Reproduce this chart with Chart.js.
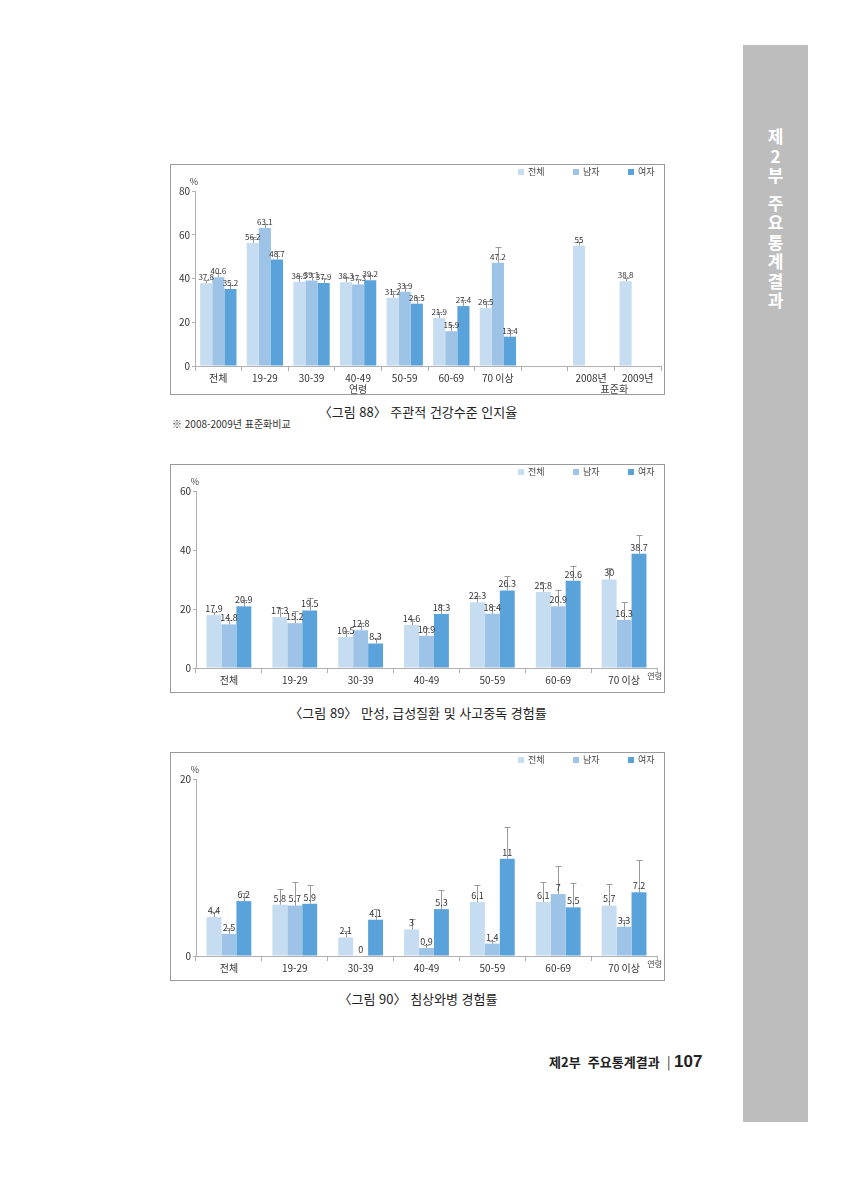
<!DOCTYPE html>
<html lang="ko">
<head>
<meta charset="utf-8">
<script src="https://cdn.jsdelivr.net/npm/chart.js@4.4.1/dist/chart.umd.min.js"></script>
<style>
  body { margin: 0; background: #fff; font-family: 'Noto Sans CJK KR', sans-serif; color: #222; }
  .page { position: relative; width: 847px; height: 1200px; overflow: hidden; }
  .box { position: absolute; border: 1.5px solid #9a9a9a; background: #fff; }
  .box canvas { position: absolute; left: 0; top: 0; }
  .cap { position: absolute; left: 170px; width: 496px; text-align: center; font-size: 13px; color: #222; }
  .note { position: absolute; left: 172px; font-size: 10px; color: #333; }
  .side { position: absolute; left: 743px; top: 45px; width: 65px; height: 1077px; background: #bdbdbd; }
  .side span { position: absolute; left: 0; width: 65px; text-align: center; color: #fff; font-size: 17px; font-weight: bold; }
  .foot { position: absolute; left: 549px; top: 1052px; font-size: 13px; font-weight: bold; color: #222; }
  .foot b { font-size: 17px; font-family: 'Liberation Sans Narrow', 'Liberation Sans', sans-serif; }
</style>
</head>
<body>
<div class="page">
  <div class="box" style="left:170px;top:164px;width:493px;height:229px"><canvas id="c1" width="493" height="229"></canvas></div>
  <div class="cap" style="top:402px">〈그림 88〉 주관적 건강수준 인지율</div>
  <div class="note" style="top:416px">※ 2008-2009년 표준화비교</div>

  <div class="box" style="left:170px;top:464px;width:493px;height:227px"><canvas id="c2" width="493" height="227"></canvas></div>
  <div class="cap" style="top:703px">〈그림 89〉 만성, 급성질환 및 사고중독 경험률</div>

  <div class="box" style="left:170px;top:752px;width:493px;height:227px"><canvas id="c3" width="493" height="227"></canvas></div>
  <div class="cap" style="top:989px">〈그림 90〉 침상와병 경험률</div>

  <div class="foot">제2부&nbsp; 주요통계결과&nbsp; <span style="font-weight:normal">|</span> <b>107</b></div>
  <div class="side" id="side"></div>
</div>
<script>
const seriesNames = ['전체', '남자', '여자'];
const seriesColors = ['#c6dcf0', '#9dc3e6', '#5aa3da'];

// 그림 88
const cats88 = ['전체', '19-29', '30-39', '40-49', '50-59', '60-69', '70 이상', '', '2008년', '2009년'];
const total88 = [37.8, 56.2, 38.5, 38.3, 31.2, 21.9, 26.5, null, 55, 38.8];
const male88 = [40.6, 63.1, 39.1, 37.3, 33.9, 15.9, 47.2, null, null, null];
const female88 = [35.2, 48.7, 37.9, 39.2, 28.5, 27.4, 13.4, null, null, null];
const totalErr88 = [1.7, 3.0, 2.5, 2.5, 3.0, 3.0, 3.0, 0, 1.7, 1.4];
const maleErr88 = [1.8, 2.0, 3.5, 2.5, 3.0, 3.0, 7.0, 0, 0, 0];
const femaleErr88 = [2.0, 4.0, 2.5, 2.5, 3.0, 3.0, 3.0, 0, 0, 0];
const yTicks88 = [0, 20, 40, 60, 80];

// 그림 89
const cats89 = ['전체', '19-29', '30-39', '40-49', '50-59', '60-69', '70 이상'];
const total89 = [17.9, 17.3, 10.5, 14.6, 22.3, 25.8, 30];
const male89 = [14.8, 15.2, 12.8, 10.9, 18.4, 20.9, 16.3];
const female89 = [20.9, 19.5, 8.3, 18.3, 26.3, 29.6, 38.7];
const totalErr89 = [1.2, 3.0, 2.0, 2.0, 2.0, 3.0, 3.9];
const maleErr89 = [1.5, 4.2, 2.6, 2.5, 2.6, 5.4, 6.2];
const femaleErr89 = [2.0, 4.3, 1.8, 3.0, 4.8, 4.9, 6.3];
const yTicks89 = [0, 20, 40, 60];

// 그림 90
const cats90 = ['전체', '19-29', '30-39', '40-49', '50-59', '60-69', '70 이상'];
const total90 = [4.4, 5.8, 2.1, 3, 6.1, 6.1, 5.7];
const male90 = [2.5, 5.7, 0, 0.9, 1.4, 7, 3.3];
const female90 = [6.2, 5.9, 4.1, 5.3, 11, 5.5, 7.2];
const totalErr90 = [0.6, 1.8, 0.7, 1.2, 1.9, 2.3, 2.4];
const maleErr90 = [0.7, 2.7, 0, 0.3, 0.3, 3.2, 0.8];
const femaleErr90 = [0.9, 2.1, 1.2, 2.2, 3.6, 2.8, 3.7];
const yTicks90 = [0, 20];

const sideChars = ['제', '2', '부', '주', '요', '통', '계', '결', '과'];

const FONT = "'Noto Sans CJK KR', sans-serif";

const extras = {
    id: 'extras',
    afterDatasetsDraw(chart, args, opts) {
        const ctx = chart.ctx;
        const y = chart.scales.y;
        const x = chart.scales.x;
        const area = chart.chartArea;
        ctx.save();
        // 오차막대
        ctx.strokeStyle = '#9a9a9a';
        ctx.lineWidth = 1;
        chart.data.datasets.forEach((ds, di) => {
            chart.getDatasetMeta(di).data.forEach((bar, i) => {
                const v = ds.data[i];
                const e = ds.err[i];
                if (v == null || !e) return;
                const top = Math.round(y.getPixelForValue(v + e)) + 0.5;
                const bx = Math.round(bar.x) + 0.5;
                ctx.beginPath();
                ctx.moveTo(bx, bar.y);
                ctx.lineTo(bx, top);
                ctx.moveTo(bx - 3, top);
                ctx.lineTo(bx + 3, top);
                ctx.stroke();
            });
        });
        // 값 라벨
        ctx.fillStyle = '#333';
        ctx.font = opts.labelSize + 'px ' + FONT;
        ctx.textAlign = 'center';
        ctx.textBaseline = 'bottom';
        chart.data.datasets.forEach((ds, di) => {
            chart.getDatasetMeta(di).data.forEach((bar, i) => {
                const v = ds.data[i];
                if (v == null) return;
                ctx.fillText(String(v), bar.x, bar.y - 2);
            });
        });
        // 범례
        ctx.font = '9px ' + FONT;
        ctx.textAlign = 'left';
        ctx.textBaseline = 'middle';
        seriesNames.forEach((name, k) => {
            const lx = 347 + k * 55;
            ctx.fillStyle = seriesColors[k];
            ctx.fillRect(lx, opts.legendY - 3, 6, 6);
            ctx.fillStyle = '#444';
            ctx.fillText(name, lx + 10, opts.legendY);
        });
        // 단위
        ctx.font = '9px ' + FONT;
        ctx.textAlign = 'center';
        ctx.textBaseline = 'bottom';
        ctx.fillText('%', area.left - 1, area.top - 5);
        if (opts.groups) {
            ctx.font = '10px ' + FONT;
            ctx.textBaseline = 'middle';
            opts.groups.forEach(g => {
                const gx = (x.getPixelForValue(g.from) + x.getPixelForValue(g.to)) / 2;
                ctx.fillText(g.text, gx, area.bottom + 23);
            });
        }
        if (opts.endTitle) {
            ctx.font = '8px ' + FONT;
            ctx.textAlign = 'right';
            ctx.textBaseline = 'middle';
            ctx.fillText(opts.endTitle, area.right + 5, area.bottom + 8);
        }
        ctx.restore();
    }
};

function makeChart(id, cats, values, errs, yTicks, layout, extraOpts) {
    return new Chart(document.getElementById(id), {
        type: 'bar',
        data: {
            labels: cats,
            datasets: values.map((vals, k) => ({
                label: seriesNames[k],
                data: vals,
                err: errs[k],
                backgroundColor: seriesColors[k],
                borderWidth: 0,
                categoryPercentage: layout.catPct,
                barPercentage: 1,
                skipNull: false
            }))
        },
        options: {
            responsive: false,
            animation: false,
            events: [],
            layout: { padding: { left: 0, top: layout.top, right: layout.right, bottom: 0 } },
            plugins: { legend: { display: false }, tooltip: { enabled: false }, extras: extraOpts },
            scales: {
                x: {
                    afterFit: s => { s.height = layout.xh; },
                    grid: { display: true, drawOnChartArea: false, tickLength: 5, color: '#b0b0b0', offset: true },
                    border: { color: '#b0b0b0' },
                    ticks: { color: '#333', font: { family: FONT, size: 10 }, padding: 1, maxRotation: 0, autoSkip: false }
                },
                y: {
                    min: yTicks[0],
                    max: yTicks[yTicks.length - 1],
                    afterFit: s => { s.width = layout.yw; },
                    afterBuildTicks: s => { s.ticks = yTicks.map(v => ({ value: v })); },
                    grid: { display: true, drawOnChartArea: false, tickLength: 3, color: '#b0b0b0' },
                    border: { color: '#b0b0b0' },
                    ticks: { color: '#333', font: { family: FONT, size: 10 }, padding: 2 }
                }
            }
        },
        plugins: [extras]
    });
}

makeChart('c1', cats88, [total88, male88, female88], [totalErr88, maleErr88, femaleErr88], yTicks88,
    { top: 26, right: 3, xh: 28, yw: 24, catPct: 0.78 },
    { legendY: 7, labelSize: 8, groups: [{ from: 0, to: 6, text: '연령' }, { from: 8, to: 9, text: '표준화' }] });

makeChart('c2', cats89, [total89, male89, female89], [totalErr89, maleErr89, femaleErr89], yTicks89,
    { top: 26, right: 7, xh: 24, yw: 25, catPct: 0.68 },
    { legendY: 7, labelSize: 9, endTitle: '연령' });

makeChart('c3', cats90, [total90, male90, female90], [totalErr90, maleErr90, femaleErr90], yTicks90,
    { top: 26, right: 7, xh: 24, yw: 25, catPct: 0.68 },
    { legendY: 7, labelSize: 9, endTitle: '연령' });

// 옆 띠 글자
const side = document.getElementById('side');
sideChars.forEach((ch, i) => {
    const s = document.createElement('span');
    s.textContent = ch;
    s.style.top = (78 + i * 19.5 + (i >= 3 ? 8 : 0)) + 'px';
    side.appendChild(s);
});
</script>
</body>
</html>
